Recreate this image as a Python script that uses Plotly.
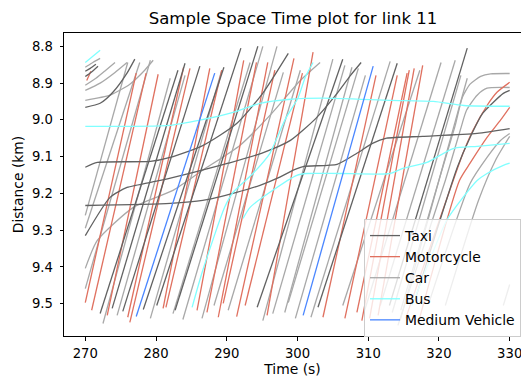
import plotly.graph_objects as go

# ---- data: vehicle trajectories (time s, distance km) ----
taxi_tracks = [
    [(272.1, 9.527), (283.1, 8.865)],
    [(273.8, 9.513), (284.1, 8.846)],
    [(275.3, 9.521), (286.2, 8.854)],
    [(278.2, 9.516), (289.6, 8.857)],
    [(280.1, 9.505), (292.0, 8.805)],
    [(282.7, 9.518), (294.4, 8.800)],
    [(294.3, 9.510), (306.4, 8.835)],
    [(302.9, 9.510), (314.1, 8.846)],
    [(313.0, 9.505), (324.0, 8.805)],
    [(316.6, 9.491), (322.6, 9.129), (324.4, 9.048), (326.2, 8.982), (327.7, 8.952), (329.1, 8.928), (330.0, 8.920)],
    [(270.0, 8.966), (272.1, 8.955), (273.9, 8.925), (275.9, 8.873), (277.0, 8.835)],
    [(270.0, 9.129), (271.7, 9.116), (279.2, 9.113), (282.0, 9.102), (286.6, 9.070), (291.4, 9.010), (295.0, 8.930), (298.7, 8.819)],
    [(270.0, 9.233), (282.0, 9.227), (286.6, 9.219), (291.4, 9.197), (294.7, 9.178), (297.5, 9.156), (299.4, 9.137),
     (300.8, 9.127), (305.6, 9.121), (308.4, 9.091), (310.6, 9.064), (312.6, 9.050), (317.7, 9.045), (325.4, 9.037), (330.0, 9.024)],
    [(270.0, 9.315), (273.5, 9.211), (275.9, 9.184), (280.6, 9.165), (285.3, 9.143), (290.2, 9.118), (294.9, 9.091),
     (299.0, 9.056), (302.6, 8.996), (305.4, 8.933), (307.5, 8.879), (309.0, 8.844)],
    [(270.0, 8.868), (270.7, 8.860), (271.5, 8.849)],
    [(270.0, 8.882), (270.8, 8.871), (271.8, 8.854)],
]

motorcycle_tracks = [
    [(270.0, 9.497), (277.2, 8.873)],
    [(270.9, 9.518), (278.6, 8.873)],
    [(273.1, 9.532), (280.3, 8.876)],
    [(276.0, 9.537), (283.9, 8.857)],
    [(276.3, 9.551), (284.8, 8.860)],
    [(281.0, 9.513), (287.6, 8.860)],
    [(281.4, 9.510), (289.3, 8.865)],
    [(285.8, 9.518), (292.4, 8.838)],
    [(287.2, 9.524), (294.2, 8.844)],
    [(288.8, 9.537), (295.8, 8.844)],
    [(289.5, 9.499), (296.8, 8.865)],
    [(291.4, 9.535), (299.5, 8.833)],
    [(292.6, 9.505), (300.7, 8.873)],
    [(295.7, 9.532), (302.2, 8.816)],
    [(303.6, 9.537), (311.1, 8.879)],
    [(306.7, 9.540), (314.1, 8.879)],
    [(308.4, 9.524), (315.5, 8.873)],
    [(309.1, 9.546), (315.8, 8.865)],
    [(310.2, 9.540), (316.5, 8.860)],
    [(311.4, 9.532), (317.7, 8.852)],
    [(315.3, 9.540), (323.4, 9.091), (324.8, 9.029), (326.8, 8.961), (328.2, 8.925), (330.0, 8.898)],
    [(317.1, 9.551), (322.9, 9.165), (324.4, 9.118), (326.8, 9.048), (328.7, 9.001), (330.0, 8.966)],
    [(270.2, 8.893), (270.8, 8.868)],
]

car_tracks = [
    [(270.0, 9.459), (279.2, 8.838)],
    [(272.5, 9.554), (282.0, 8.887)],
    [(274.5, 9.532), (284.1, 8.879)],
    [(279.2, 9.540), (289.3, 8.865)],
    [(282.4, 9.527), (293.3, 8.844)],
    [(283.8, 9.543), (295.1, 8.800)],
    [(286.5, 9.540), (297.1, 8.800)],
    [(288.2, 9.505), (298.0, 8.871)],
    [(290.2, 9.518), (300.4, 8.865)],
    [(295.1, 9.546), (305.0, 8.835)],
    [(296.5, 9.527), (306.7, 8.852)],
    [(298.2, 9.524), (307.7, 8.857)],
    [(298.7, 9.497), (308.6, 8.860)],
    [(299.7, 9.540), (309.6, 8.879)],
    [(301.9, 9.537), (313.1, 8.841)],
    [(306.4, 9.505), (317.3, 8.865)],
    [(309.5, 9.518), (320.3, 8.844)],
    [(311.7, 9.505), (322.3, 8.838)],
    [(313.4, 9.524), (323.1, 8.879)],
    [(314.5, 9.546), (324.0, 8.887)],
    [(270.0, 9.260), (276.0, 8.844)],
    [(270.0, 9.295), (277.7, 8.844)],
    [(270.0, 9.404), (271.7, 9.328), (276.8, 9.238), (282.4, 9.192), (286.6, 9.137), (291.9, 9.069),
     (296.1, 8.988), (300.4, 8.893), (303.2, 8.844)],
    [(314.6, 9.518), (320.2, 9.151), (322.3, 9.015), (323.3, 8.939), (324.4, 8.903), (325.9, 8.882), (327.3, 8.875), (330.0, 8.874)],
    [(314.2, 9.559), (320.9, 9.165), (323.0, 9.029), (323.9, 8.974), (325.4, 8.933), (326.8, 8.914), (330.0, 8.912)],
    [(318.7, 9.491), (324.4, 9.173), (326.8, 9.102), (328.7, 9.056), (330.0, 9.037)],
    [(320.9, 9.505), (325.6, 9.219), (328.0, 9.110), (330.0, 9.045)],
    [(329.1, 9.505), (330.0, 9.448)],
    [(270.0, 8.857), (270.9, 8.846), (272.1, 8.833)],
    [(270.0, 8.906), (271.5, 8.887), (272.9, 8.865), (274.2, 8.844)],
    [(270.0, 8.920), (272.1, 8.900), (274.2, 8.871), (275.9, 8.844)],
    [(270.0, 8.947), (273.5, 8.933), (276.3, 8.903), (278.4, 8.865), (279.6, 8.838)],
]

bus_tracks = [
    [(270.0, 8.844), (270.9, 8.830), (272.1, 8.811)],
    [(270.0, 9.018), (282.0, 9.015), (286.2, 9.001), (290.9, 8.980), (294.7, 8.955), (299.0, 8.944),
     (303.6, 8.941), (313.1, 8.947), (319.2, 8.950), (323.5, 8.961), (330.0, 8.963)],
    [(285.1, 9.510), (286.6, 9.410), (289.7, 9.238), (290.9, 9.197), (293.7, 9.146), (296.1, 9.091),
     (298.2, 9.001), (300.1, 8.939), (301.1, 8.884), (302.2, 8.844)],
    [(292.3, 9.268), (293.3, 9.238), (296.1, 9.197), (299.9, 9.151), (301.3, 9.146), (306.0, 9.146),
     (313.1, 9.146), (314.9, 9.132), (318.3, 9.116), (322.0, 9.078), (325.4, 9.072), (330.0, 9.064)],
    [(316.2, 9.505), (321.1, 9.273), (323.4, 9.211), (325.4, 9.165), (326.8, 9.146), (329.1, 9.124), (330.0, 9.118)],
]

medium_tracks = [
    [(277.2, 9.535), (288.3, 8.873)],
    [(300.8, 9.532), (310.7, 8.854)],
]

categories = ["Taxi", "Motorcycle", "Car", "Bus", "Medium Vehicle"]
colors = ["#626262", "#e0705f", "#a8a8a8", "#80ffff", "#4a86ff"]
all_tracks = [taxi_tracks, motorcycle_tracks, car_tracks, bus_tracks, medium_tracks]

x_ticks = [270, 280, 290, 300, 310, 320, 330]
y_ticks = [8.8, 8.9, 9.0, 9.1, 9.2, 9.3, 9.4, 9.5]

fig = go.Figure()
draw_order = [2, 1, 0, 3, 4]
for ci in draw_order:
    for k, tr in enumerate(all_tracks[ci]):
        fig.add_trace(go.Scatter(
            x=[p[0] for p in tr], y=[p[1] for p in tr],
            mode="lines", line=dict(color=colors[ci], width=1.3, shape="spline", smoothing=0.6),
            name=categories[ci], legendgroup=categories[ci], showlegend=(k == 0),
            legendrank=ci + 1, hoverinfo="skip"))

font = "DejaVu Sans, sans-serif"
fig.update_layout(
    width=521, height=377,
    margin=dict(l=64, r=0, t=33, b=41),
    paper_bgcolor="white", plot_bgcolor="white",
    hovermode=False, dragmode=False,
    font=dict(family=font, size=13.9, color="#000"),
    title=dict(text="Sample Space Time plot for link 11", x=0.5624, xanchor="center",
               y=1 - 18 / 377, yanchor="middle", font=dict(size=16.5, family=font, color="#000")),
    showlegend=True,
    legend=dict(x=0.6565, y=0.386, xanchor="left", yanchor="top",
                bgcolor="rgba(255,255,255,0.8)", bordercolor="#cccccc", borderwidth=1,
                font=dict(size=13.9, family=font), itemwidth=30, tracegroupgap=0),
)
fig.update_xaxes(range=[266.99, 331.6], tickvals=x_ticks, ticks="outside", ticklen=3.5,
                 tickcolor="#000", showline=True, linecolor="#000", linewidth=1, mirror=True,
                 showgrid=False, zeroline=False, tickfont=dict(size=13.2), ticklabelstandoff=2,
                 ticklabeloverflow="allow", automargin=False, showspikes=False,
                 title=dict(text="Time (s)", font=dict(size=13.9), standoff=9))
fig.update_yaxes(range=[9.588, 8.7638], tickvals=y_ticks, ticktext=[f"{v:.1f}" for v in y_ticks],
                 ticks="outside", ticklen=3.5, tickcolor="#000", showline=True, linecolor="#000",
                 linewidth=1, showgrid=False, zeroline=False, tickfont=dict(size=13.2),
                 ticklabelstandoff=4, automargin=False, showspikes=False,
                 title=dict(text="Distance (km)", font=dict(size=13.9), standoff=5))

fig.write_html("out.html", config={"displayModeBar": False, "staticPlot": True},
               post_script="document.body.style.margin='0px';")
